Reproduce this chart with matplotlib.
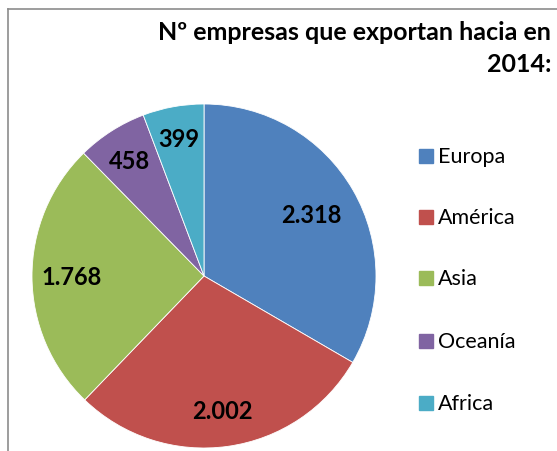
import matplotlib
matplotlib.use("Agg")
import matplotlib.pyplot as plt
import numpy as np
from matplotlib.patches import Rectangle
from matplotlib.lines import Line2D

plt.rcParams['font.family'] = ['Lato', 'DejaVu Sans']

categories = ["Europa", "América", "Asia", "Oceanía", "Africa"]
values = [2318, 2002, 1768, 458, 399]
value_labels = ["2.318", "2.002", "1.768", "458", "399"]
colors = ["#4F81BD", "#C0504D", "#9BBB59", "#8064A2", "#4BACC6"]
title_lines = ["Nº empresas que exportan hacia en", "2014:"]

W, H = 557, 452
fig = plt.figure(figsize=(W / 100, H / 100), dpi=100)

# frame (only left and top visible in the crop)
fig.add_artist(Line2D([8 / W, 8 / W], [0, 1 - 10 / H], transform=fig.transFigure,
                      color="#8C8C8C", lw=1.2))
fig.add_artist(Line2D([8 / W, 1], [1 - 10 / H, 1 - 10 / H], transform=fig.transFigure,
                      color="#8C8C8C", lw=1.2))

cx, cy, r = 204, 277, 172
ax = fig.add_axes([(cx - r) / W, (H - cy - r) / H, 2 * r / W, 2 * r / H])
wedges, _ = ax.pie(values, colors=colors, startangle=90, counterclock=False,
                   radius=1, wedgeprops=dict(linewidth=0.6, edgecolor="white"))
ax.set_xlim(-1, 1)
ax.set_ylim(-1, 1)
ax.set_aspect("equal")
ax.axis("off")

label_r = [0.72, 0.79, 0.77, 0.80, 0.81]
for w, lab, d in zip(wedges, value_labels, label_r):
    ang = np.deg2rad((w.theta1 + w.theta2) / 2)
    ax.text(d * np.cos(ang), d * np.sin(ang), lab, ha="center", va="center",
            fontsize=17, fontweight="bold", color="black")

for line, y in zip(title_lines, [32, 64]):
    fig.text(551 / W, 1 - y / H, line, ha="right", va="center", fontsize=18,
             fontweight="bold", color="black")

# legend
ys = [157, 218, 279, 342, 404]
for cat, col, y in zip(categories, colors, ys):
    fig.add_artist(Rectangle((419 / W, 1 - (y + 7) / H), 14 / W, 14 / H,
                             transform=fig.transFigure, color=col))
    fig.text(438 / W, 1 - y / H, cat, ha="left", va="center", fontsize=15.5,
             color="black")

fig.savefig("out.png", dpi=100)
